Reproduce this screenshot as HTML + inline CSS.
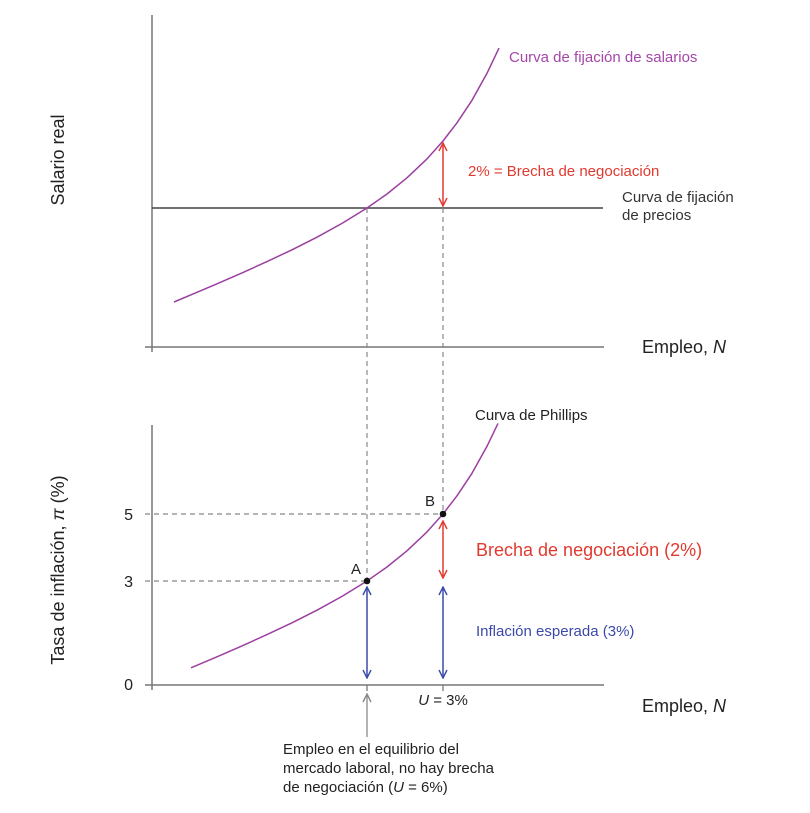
<!DOCTYPE html>
<html><head><meta charset="utf-8"><style>
html,body{margin:0;padding:0;background:#fff;}
svg{display:block;font-family:"Liberation Sans","DejaVu Sans",sans-serif;}
</style></head><body>
<svg width="810" height="813" viewBox="0 0 810 813" xmlns="http://www.w3.org/2000/svg">
<defs>
<marker id="ar" viewBox="0 0 10 10" refX="9" refY="5" markerWidth="10" markerHeight="10" markerUnits="userSpaceOnUse" orient="auto-start-reverse"><path d="M1,1 L9,5 L1,9" fill="none" stroke="#e03a2f" stroke-width="1.4"/></marker>
<marker id="ab" viewBox="0 0 10 10" refX="9" refY="5" markerWidth="10" markerHeight="10" markerUnits="userSpaceOnUse" orient="auto-start-reverse"><path d="M1,1 L9,5 L1,9" fill="none" stroke="#3b4aa8" stroke-width="1.4"/></marker>
<marker id="ag" viewBox="0 0 10 10" refX="9" refY="5" markerWidth="10" markerHeight="10" markerUnits="userSpaceOnUse" orient="auto"><path d="M1,1 L9,5 L1,9" fill="none" stroke="#888" stroke-width="1.4"/></marker>
</defs>
<!-- top chart -->
<line x1="152" y1="15" x2="152" y2="352" stroke="#777" stroke-width="1.5"/>
<line x1="145" y1="347" x2="604" y2="347" stroke="#777" stroke-width="1.5"/>
<line x1="152" y1="208" x2="603" y2="208" stroke="#444" stroke-width="1.5"/>
<g stroke="#888" stroke-width="1.2" stroke-dasharray="5,4">
<line x1="367" y1="208" x2="367" y2="581"/>
<line x1="443" y1="208" x2="443" y2="514"/>
<line x1="145" y1="514" x2="443" y2="514"/>
<line x1="145" y1="581" x2="367" y2="581"/>
</g>
<polyline points="174,302 197,292.3 217,283.8 242,272.9 267,261.6 292,249.8 317,237.2 342,223.4 367,208 387,194 407,177.8 427,158.9 443,141 457,122.8 472,100.3 487,73.3 499,48.1" fill="none" stroke="#9b3fa0" stroke-width="1.5" stroke-linejoin="round"/>
<line x1="443" y1="143" x2="443" y2="206" stroke="#e03a2f" stroke-width="1.5" marker-start="url(#ar)" marker-end="url(#ar)"/>
<text x="509" y="62" font-size="15" fill="#a447a8">Curva de fijación de salarios</text>
<text x="468" y="176" font-size="15" fill="#e03a2f">2% = Brecha de negociación</text>
<text x="622" y="202" font-size="15" fill="#333">Curva de fijación</text>
<text x="622" y="220" font-size="15" fill="#333">de precios</text>
<text x="642" y="353" font-size="18" fill="#222">Empleo, <tspan font-style="italic">N</tspan></text>
<text transform="translate(64,160) rotate(-90)" text-anchor="middle" font-size="18" fill="#222">Salario real</text>
<!-- bottom chart -->
<line x1="152" y1="425" x2="152" y2="690" stroke="#777" stroke-width="1.5"/>
<line x1="145" y1="685" x2="604" y2="685" stroke="#777" stroke-width="1.5"/>
<polyline points="191,667.8 217,656.8 242,645.9 267,634.6 292,622.8 317,610.2 342,596.4 367,581 387,567 407,550.8 427,531.9 443,514 457,495.8 472,473.3 487,446.3 498,423.4" fill="none" stroke="#9b3fa0" stroke-width="1.5" stroke-linejoin="round"/>
<circle cx="367" cy="581" r="3.3" fill="#111"/>
<circle cx="443" cy="514" r="3.3" fill="#111"/>
<text x="351" y="574" font-size="15" fill="#222">A</text>
<text x="425" y="506" font-size="15" fill="#222">B</text>
<line x1="443" y1="521" x2="443" y2="578" stroke="#e03a2f" stroke-width="1.5" marker-start="url(#ar)" marker-end="url(#ar)"/>
<line x1="367" y1="587" x2="367" y2="678" stroke="#3b4aa8" stroke-width="1.5" marker-start="url(#ab)" marker-end="url(#ab)"/>
<line x1="443" y1="587" x2="443" y2="678" stroke="#3b4aa8" stroke-width="1.5" marker-start="url(#ab)" marker-end="url(#ab)"/>
<line x1="367" y1="737" x2="367" y2="694" stroke="#888" stroke-width="1.3" marker-end="url(#ag)"/>
<line x1="367" y1="685" x2="367" y2="691" stroke="#777" stroke-width="1.3"/>
<line x1="443" y1="685" x2="443" y2="691" stroke="#777" stroke-width="1.3"/>
<text x="475" y="420" font-size="15" fill="#222">Curva de Phillips</text>
<text x="476" y="556" font-size="18" fill="#e03a2f">Brecha de negociación (2%)</text>
<text x="476" y="636" font-size="15" fill="#3b4aa8">Inflación esperada (3%)</text>
<text x="443" y="705" font-size="15" fill="#222" text-anchor="middle"><tspan font-style="italic">U</tspan> = 3%</text>
<text x="283" y="754" font-size="15" fill="#222">Empleo en el equilibrio del</text>
<text x="283" y="773" font-size="15" fill="#222">mercado laboral, no hay brecha</text>
<text x="283" y="792" font-size="15" fill="#222">de negociación (<tspan font-style="italic">U</tspan> = 6%)</text>
<text x="642" y="712" font-size="18" fill="#222">Empleo, <tspan font-style="italic">N</tspan></text>
<text x="133" y="520" font-size="16" fill="#222" text-anchor="end">5</text>
<text x="133" y="587" font-size="16" fill="#222" text-anchor="end">3</text>
<text x="133" y="690" font-size="16" fill="#222" text-anchor="end">0</text>
<text transform="translate(64,570) rotate(-90)" text-anchor="middle" font-size="18" fill="#222">Tasa de inflación, <tspan font-style="italic">π</tspan> (%)</text>
</svg>
</body></html>
